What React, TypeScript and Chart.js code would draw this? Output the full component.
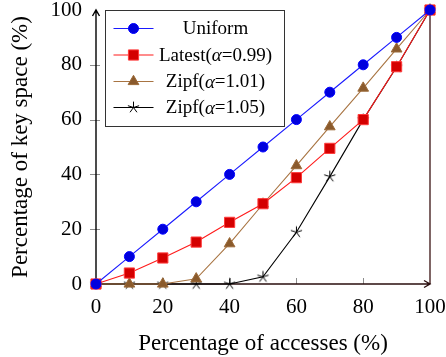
import React, { useEffect, useRef } from 'react';
import { Chart, registerables } from 'chart.js';

Chart.register(...registerables);

const accesses = [0, 10, 20, 30, 40, 50, 60, 70, 80, 90, 100];
const uniform = [0, 10, 20, 30, 40, 50, 60, 70, 80, 90, 100];
const latest = [0, 4, 9.5, 15.3, 22.5, 29.3, 38.8, 49.5, 60, 79.3, 100];
const zipf101 = [0, 0, 0, 1.9, 14.7, 29.2, 43.2, 57.4, 71.5, 85.8, 100];
const zipf105 = [0, 0, 0, 0, 0, 2.6, 18.9, 39.2, 60, 79.2, 100];
const tickValues = [0, 20, 40, 60, 80, 100];
const seriesNames = ['Uniform', 'Latest(α=0.99)', 'Zipf(α=1.01)', 'Zipf(α=1.05)'];
const xTitle = 'Percentage of accesses (%)';
const yTitle = 'Percentage of key space (%)';

const FONT = '"Liberation Serif", "Times New Roman", serif';

function makeStar(r: number, color: string, lw: number): HTMLCanvasElement {
  const c = document.createElement('canvas');
  const s = Math.ceil(2 * r + 4);
  c.width = s;
  c.height = s;
  const g = c.getContext('2d')!;
  g.strokeStyle = color;
  g.lineWidth = lw;
  g.lineCap = 'round';
  const cx = s / 2, cy = s / 2;
  g.beginPath();
  for (let k = 0; k < 5; k++) {
    const a = -Math.PI / 2 + (k * 2 * Math.PI) / 5;
    g.moveTo(cx, cy);
    g.lineTo(cx + Math.cos(a) * r, cy + Math.sin(a) * r);
  }
  g.stroke();
  return c;
}

type Marker = { style: any; radius: number; fill: string; border: string; borderWidth: number };

function drawMarker(ctx: CanvasRenderingContext2D, m: Marker, x: number, y: number) {
  ctx.save();
  ctx.fillStyle = m.fill;
  ctx.strokeStyle = m.border;
  ctx.lineWidth = m.borderWidth;
  if (m.style instanceof HTMLCanvasElement) {
    ctx.drawImage(m.style, x - m.style.width / 2, y - m.style.height / 2);
  } else if (m.style === 'circle') {
    ctx.beginPath();
    ctx.arc(x, y, m.radius, 0, Math.PI * 2);
    ctx.fill();
    ctx.stroke();
  } else if (m.style === 'rect') {
    const h = m.radius * Math.SQRT1_2;
    ctx.beginPath();
    ctx.rect(x - h, y - h, 2 * h, 2 * h);
    ctx.fill();
    ctx.stroke();
  } else if (m.style === 'triangle') {
    const r = m.radius;
    ctx.beginPath();
    ctx.moveTo(x, y - r);
    ctx.lineTo(x + r * Math.sin(Math.PI * 2 / 3), y + r * 0.5);
    ctx.lineTo(x - r * Math.sin(Math.PI * 2 / 3), y + r * 0.5);
    ctx.closePath();
    ctx.fill();
    ctx.stroke();
  }
  ctx.restore();
}

export default function App() {
  const ref = useRef<HTMLCanvasElement>(null);

  useEffect(() => {
    const star = makeStar(5.5, '#000000', 1);
    const markers: Marker[] = [
      { style: 'circle', radius: 5, fill: '#0000dd', border: '#0000ff', borderWidth: 1 },
      { style: 'rect', radius: 7.2, fill: '#d40000', border: '#ff3a3a', borderWidth: 1 },
      { style: 'triangle', radius: 6.2, fill: '#8a5a2c', border: '#9c6a38', borderWidth: 1 },
      { style: star, radius: 5.5, fill: '#000000', border: '#000000', borderWidth: 1 },
    ];
    const lineColors = ['#1a1aff', '#ff1a1a', '#a87442', '#000000'];
    const seriesValues = [uniform, latest, zipf101, zipf105];

    const axesPlugin = {
      id: 'axesDecor',
      beforeDatasetsDraw(chart: any) {
        const { ctx, chartArea, scales } = chart;
        const { left, right, top, bottom } = chartArea;
        ctx.save();
        ctx.strokeStyle = '#8c8c8c';
        ctx.lineWidth = 1;
        ctx.beginPath();
        for (const v of tickValues) {
          const py = Math.round(scales.y.getPixelForValue(v)) + 0.5;
          if (v !== 0 && v !== 100) {
            ctx.moveTo(left - 6, py);
            ctx.lineTo(left + 4, py);
          }
          const px = Math.round(scales.x.getPixelForValue(v)) + 0.5;
          if (v !== 0 && v !== 100) {
            ctx.moveTo(px, bottom - 6);
            ctx.lineTo(px, bottom);
          }
        }
        ctx.stroke();
        ctx.strokeStyle = '#3a1212';
        ctx.lineWidth = 1.3;
        ctx.beginPath();
        ctx.moveTo(right, top);
        ctx.lineTo(right, bottom);
        ctx.stroke();
        ctx.strokeStyle = '#2a0e0e';
        ctx.lineWidth = 1.4;
        ctx.beginPath();
        ctx.moveTo(left, bottom);
        ctx.lineTo(right, bottom);
        ctx.moveTo(right - 6, bottom - 3.5);
        ctx.lineTo(right, bottom);
        ctx.lineTo(right - 6, bottom + 3.5);
        ctx.stroke();
        ctx.strokeStyle = '#000000';
        ctx.beginPath();
        ctx.moveTo(left, bottom);
        ctx.lineTo(left, top);
        ctx.moveTo(left - 3.5, top + 6);
        ctx.lineTo(left, top);
        ctx.lineTo(left + 3.5, top + 6);
        ctx.stroke();
        ctx.restore();
      },
    };

    const legendPlugin = {
      id: 'customLegend',
      afterDraw(chart: any) {
        const { ctx, chartArea } = chart;
        const bx = Math.round(chartArea.left + 9) + 0.5;
        const by = Math.round(chartArea.top) + 0.5;
        const bw = 179, bh = 116;
        ctx.save();
        ctx.fillStyle = '#ffffff';
        ctx.fillRect(bx, by, bw, bh);
        ctx.strokeStyle = '#333333';
        ctx.lineWidth = 1;
        ctx.strokeRect(bx, by, bw, bh);
        const rows = [18, 44.5, 71, 97];
        seriesNames.forEach((name, i) => {
          const ry = by + rows[i];
          ctx.strokeStyle = lineColors[i];
          ctx.lineWidth = 1.2;
          ctx.beginPath();
          ctx.moveTo(bx + 8, ry);
          ctx.lineTo(bx + 48, ry);
          ctx.stroke();
          drawMarker(ctx, markers[i], bx + 28, ry);
          const parts = name.split('α');
          const normal = `19px ${FONT}`;
          const italic = `italic 19px ${FONT}`;
          const segs: { t: string; f: string }[] = [];
          parts.forEach((p, j) => {
            if (j > 0) segs.push({ t: 'α', f: italic });
            if (p) segs.push({ t: p, f: normal });
          });
          let total = 0;
          for (const s of segs) {
            ctx.font = s.f;
            total += ctx.measureText(s.t).width;
          }
          let tx = bx + 110 - total / 2;
          ctx.fillStyle = '#000000';
          ctx.textBaseline = 'middle';
          for (const s of segs) {
            ctx.font = s.f;
            ctx.fillText(s.t, tx, ry + 1);
            tx += ctx.measureText(s.t).width;
          }
        });
        ctx.restore();
      },
    };

    const chart = new Chart(ref.current!, {
      type: 'line',
      data: {
        datasets: seriesNames.map((name, i) => ({
          label: name,
          data: accesses.map((x, k) => ({ x, y: seriesValues[i][k] })),
          borderColor: lineColors[i],
          borderWidth: 1.1,
          pointStyle: markers[i].style,
          pointRadius: markers[i].radius,
          pointBackgroundColor: markers[i].fill,
          pointBorderColor: markers[i].border,
          pointBorderWidth: markers[i].borderWidth,
          tension: 0,
          fill: false,
          clip: false as any,
        })),
      },
      options: {
        responsive: false,
        animation: false,
        events: [],
        layout: { padding: { left: 0, right: 16, top: 10, bottom: 0 } },
        plugins: {
          legend: { display: false },
          tooltip: { enabled: false },
        },
        scales: {
          x: {
            type: 'linear',
            min: 0,
            max: 100,
            afterFit: (s: any) => {
              s.height = 73;
              s.paddingLeft = 0;
              s.paddingRight = 0;
              s.paddingTop = 0;
              s.paddingBottom = 0;
            },
            afterBuildTicks: (s: any) => { s.ticks = tickValues.map((v) => ({ value: v })); },
            grid: { display: false, drawTicks: false },
            border: { display: false },
            ticks: {
              font: { family: FONT, size: 21, lineHeight: 1 },
              color: '#000000',
              padding: 13,
              maxRotation: 0,
            },
            title: {
              display: true,
              text: xTitle,
              font: { family: FONT, size: 23, lineHeight: 1 },
              color: '#000000',
              padding: { top: 0, bottom: 2 },
            },
          },
          y: {
            type: 'linear',
            min: 0,
            max: 100,
            afterFit: (s: any) => {
              s.width = 96;
              s.paddingLeft = 0;
              s.paddingRight = 0;
              s.paddingTop = 0;
              s.paddingBottom = 0;
            },
            afterBuildTicks: (s: any) => { s.ticks = tickValues.map((v) => ({ value: v })); },
            grid: { display: false, drawTicks: false },
            border: { display: false },
            ticks: {
              font: { family: FONT, size: 21, lineHeight: 1 },
              color: '#000000',
              padding: 14,
            },
            title: {
              display: true,
              text: yTitle,
              font: { family: FONT, size: 23, lineHeight: 1 },
              color: '#000000',
              padding: { top: 9, bottom: 0 },
            },
          },
        },
      },
      plugins: [axesPlugin, legendPlugin],
    } as any);
    return () => chart.destroy();
  }, []);

  return (
    <div style={{ position: 'absolute', left: 0, top: 0, width: 446, height: 357, background: '#ffffff' }}>
      <canvas ref={ref} width={446} height={357} style={{ display: 'block', width: 446, height: 357 }} />
    </div>
  );
}
